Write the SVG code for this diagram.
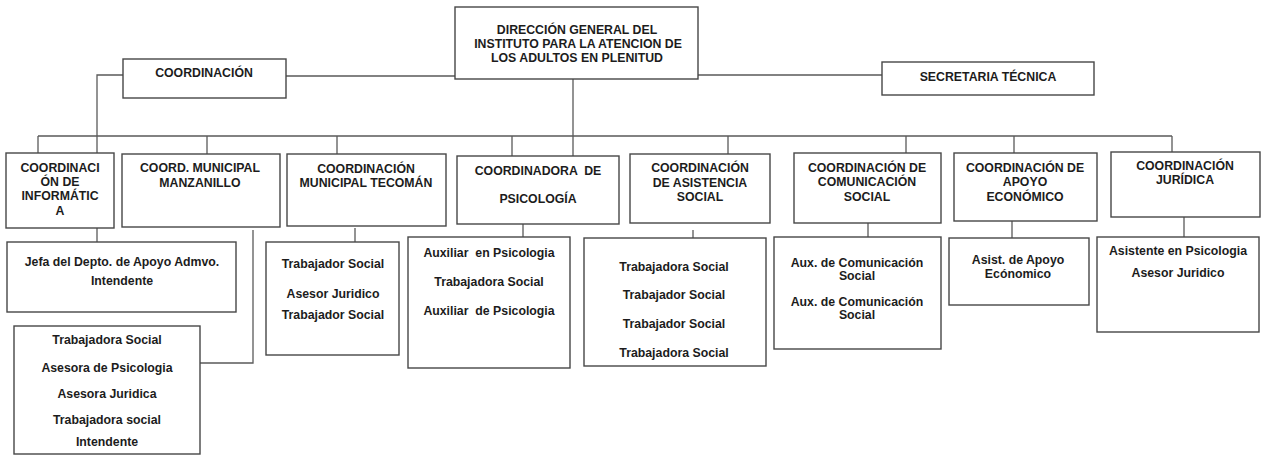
<svg xmlns="http://www.w3.org/2000/svg" width="1261" height="455" viewBox="0 0 1261 455">
<style>
.box{fill:#fff;stroke:#474747;stroke-width:1.4}
.ln{fill:none;stroke:#5a5a5a;stroke-width:1.3}
text{font-family:"Liberation Sans",Arial,sans-serif;font-weight:bold;font-size:12.3px;fill:#1c1c1c;text-anchor:middle;white-space:pre}
</style>
<rect width="1261" height="455" fill="#fff"/>
<g id="connectors">
<path class="ln" d="M286 76H455M698 75H882M123 75H97V153M573 79V136M38 136H1172"/>
<path class="ln" d="M38 136V192M207 136V154M337 136V154M512 136V156M573 136V156M728 136V154M906 136V153M1014 136V153M1172 136V152"/>
<path class="ln" d="M97 228V242M253 230V363H200M355 228V242M523 224V237M693 230V238M868 223V237M1012 221V238M1184 217V237"/>
</g>
<g id="direccion">
<rect class="box" x="455" y="7" width="243" height="72"/>
<text x="577" y="33.5">DIRECCIÓN GENERAL DEL</text>
<text x="578" y="47.5">INSTITUTO PARA LA ATENCION DE</text>
<text x="577" y="61.5">LOS ADULTOS EN PLENITUD</text>
</g>
<g id="coordinacion">
<rect class="box" x="123" y="59" width="163" height="39"/>
<text x="204" y="76.5">COORDINACIÓN</text>
</g>
<g id="secretaria">
<rect class="box" x="882" y="62" width="212" height="33"/>
<text x="988" y="80.5">SECRETARIA TÉCNICA</text>
</g>
<g id="informatica">
<rect class="box" x="6" y="153" width="108" height="75"/>
<text x="60" y="171.5">COORDINACI</text>
<text x="60" y="185.5">ÓN DE</text>
<text x="60" y="199.5">INFORMÁTIC</text>
<text x="60" y="214.5">A</text>
</g>
<g id="manzanillo">
<rect class="box" x="122" y="154" width="158" height="73"/>
<text x="200" y="171.5">COORD. MUNICIPAL</text>
<text x="200" y="186.5">MANZANILLO</text>
</g>
<g id="tecoman">
<rect class="box" x="287" y="154" width="159" height="72"/>
<text x="366" y="172.5">COORDINACIÓN</text>
<text x="366" y="186.5">MUNICIPAL TECOMÁN</text>
</g>
<g id="psicologia">
<rect class="box" x="457" y="156" width="162" height="68"/>
<text x="538" y="174.5">COORDINADORA  DE</text>
<text x="538" y="202.5">PSICOLOGÍA</text>
</g>
<g id="asistencia">
<rect class="box" x="630" y="154" width="140" height="69"/>
<text x="700" y="171.5">COORDINACIÓN</text>
<text x="700" y="186.5">DE ASISTENCIA</text>
<text x="700" y="200.5">SOCIAL</text>
</g>
<g id="comunicacion">
<rect class="box" x="794" y="153" width="147" height="70"/>
<text x="867" y="171.5">COORDINACIÓN DE</text>
<text x="867" y="185.5">COMUNICACIÓN</text>
<text x="867" y="200.5">SOCIAL</text>
</g>
<g id="economico">
<rect class="box" x="954" y="153" width="143" height="68"/>
<text x="1025" y="171.5">COORDINACIÓN DE</text>
<text x="1025" y="185.5">APOYO</text>
<text x="1025" y="200.5">ECONÓMICO</text>
</g>
<g id="juridica">
<rect class="box" x="1111" y="152" width="149" height="65"/>
<text x="1185" y="169.5">COORDINACIÓN</text>
<text x="1185" y="183.5">JURÍDICA</text>
</g>
<g id="informatica-staff">
<rect class="box" x="7" y="242" width="229" height="70"/>
<text x="122" y="265.5">Jefa del Depto. de Apoyo Admvo.</text>
<text x="122" y="284.5">Intendente</text>
</g>
<g id="manzanillo-staff">
<rect class="box" x="14" y="326" width="186" height="128"/>
<text x="107" y="343.5">Trabajadora Social</text>
<text x="107" y="371.5">Asesora de Psicologia</text>
<text x="107" y="397.5">Asesora Juridica</text>
<text x="107" y="423.5">Trabajadora social</text>
<text x="107" y="445.5">Intendente</text>
</g>
<g id="tecoman-staff">
<rect class="box" x="266" y="242" width="133" height="113"/>
<text x="333" y="267.5">Trabajador Social</text>
<text x="333" y="297.5">Asesor Juridico</text>
<text x="333" y="318.5">Trabajador Social</text>
</g>
<g id="psicologia-staff">
<rect class="box" x="408" y="237" width="162" height="131"/>
<text x="489" y="256.5">Auxiliar  en Psicologia</text>
<text x="489" y="285.5">Trabajadora Social</text>
<text x="489" y="314.5">Auxiliar  de Psicologia</text>
</g>
<g id="asistencia-staff">
<rect class="box" x="584" y="238" width="182" height="128"/>
<text x="674" y="270.5">Trabajadora Social</text>
<text x="674" y="298.5">Trabajador Social</text>
<text x="674" y="327.5">Trabajador Social</text>
<text x="674" y="356.5">Trabajadora Social</text>
</g>
<g id="comunicacion-staff">
<rect class="box" x="774" y="237" width="167" height="112"/>
<text x="857" y="267">Aux. de Comunicación</text>
<text x="857" y="280">Social</text>
<text x="857" y="305.5">Aux. de Comunicación</text>
<text x="857" y="318.5">Social</text>
</g>
<g id="economico-staff">
<rect class="box" x="949" y="238" width="140" height="67"/>
<text x="1018" y="263.5">Asist. de Apoyo</text>
<text x="1018" y="277.5">Ecónomico</text>
</g>
<g id="juridica-staff">
<rect class="box" x="1097" y="237" width="162" height="95"/>
<text x="1178" y="254.5">Asistente en Psicologia</text>
<text x="1178" y="276.5">Asesor Juridico</text>
</g>
</svg>
